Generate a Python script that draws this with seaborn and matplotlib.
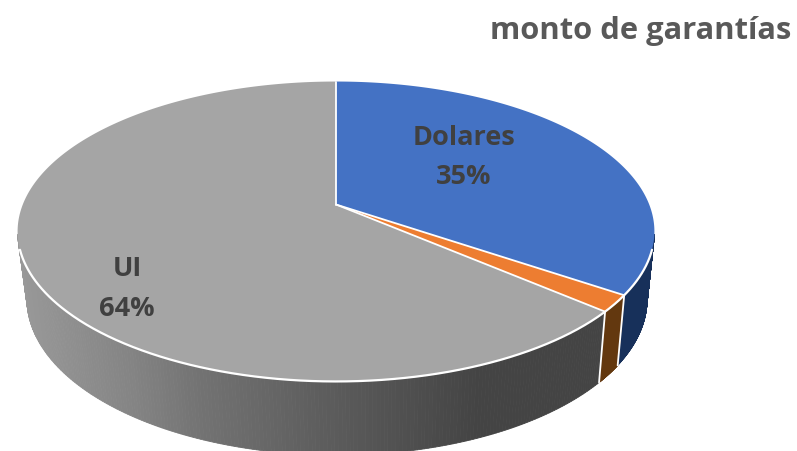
import numpy as np
import matplotlib
matplotlib.use("Agg")
import matplotlib.pyplot as plt
import seaborn as sns

labels = ["Dolares", "", "UI"]
values = [34.5, 1.8, 63.7]
shown_pct = ["35%", "", "64%"]
top_colors = ["#4472C4", "#ED7D31", "#A5A5A5"]
side_colors = ["#17305A", "#63380F", None]
title = "monto de garantías"

sns.set_theme(style="white")
plt.rcParams["font.family"] = ["Open Sans", "DejaVu Sans"]

fig = plt.figure(figsize=(7.97, 4.52), dpi=100)
ax = fig.add_axes([0, 0, 1, 1])
ax.set_xlim(0, 797)
ax.set_ylim(452, 0)
ax.axis("off")

K = 0.18
def top(t):
    d = 1 + K * np.sin(t)
    return 336 + 313.2 * np.cos(t) / d, 205.5 - 145.1 * np.sin(t) / d

def bottom(t):
    d = 1 + K * np.sin(t)
    return 337 + 305 * np.cos(t) / d, 272 - 151 * np.sin(t) / d

fracs = np.array(values) / sum(values)
ends = np.pi / 2 - 2 * np.pi * np.cumsum(fracs)
starts = np.r_[np.pi / 2, ends[:-1]]

def grey_at(x):
    return np.interp(x, [20, 130, 200, 300, 480, 620], [0.60, 0.52, 0.45, 0.38, 0.265, 0.265])

# Side walls, clockwise from the right of the pie, only the part facing the viewer
FRONT = (-np.pi + 0.2, -0.2)
for s, e, c in zip(starts, ends, side_colors):
    lo, hi = max(e, FRONT[0]), min(s, FRONT[1])
    if lo >= hi:
        continue
    ts = np.linspace(hi, lo, 220)
    for a, b in zip(ts[:-1], ts[1:]):
        xa, ya = top(np.array([a, b]))
        xb, yb = bottom(np.array([b, a]))
        if c is None:
            g = float(grey_at((xa.mean() + xb.mean()) / 2))
            col = (g, g, g)
        else:
            col = c
        ax.fill(np.r_[xa, xb], np.r_[ya, yb], color=col, lw=0.6, zorder=1)

# White vertical edges between the walls
for t in [ends[0], ends[1]]:
    x1, y1 = top(np.array([t]))
    x2, y2 = bottom(np.array([t]))
    ax.plot([x1[0], x2[0]], [y1[0], y2[0]], color="white", lw=1.3, zorder=2)

# Top faces
for s, e, c in zip(starts, ends, top_colors):
    ts = np.linspace(s, e, 300)
    x, y = top(ts)
    ax.fill(np.r_[336, x], np.r_[205.5, y], color=c, lw=0, zorder=3)

# White edges: radii and rim
for t in starts:
    x, y = top(np.array([t]))
    ax.plot([336, x[0]], [205.5, y[0]], color="white", lw=1.3, zorder=4)
ts = np.linspace(-np.pi + 0.30, -0.30, 500)
x, y = top(ts)
ax.plot(x, y, color="white", lw=1.6, zorder=4)

# Data labels
FS = 19.5
ax.text(464, 138, labels[0], ha="center", va="center", fontsize=FS, fontweight="bold", color="#404040", zorder=5)
ax.text(464, 177, shown_pct[0], ha="center", va="center", fontsize=FS, fontweight="bold", color="#404040", zorder=5)
ax.text(127, 269, labels[2], ha="center", va="center", fontsize=FS, fontweight="bold", color="#404040", zorder=5)
ax.text(127, 309, shown_pct[2], ha="center", va="center", fontsize=FS, fontweight="bold", color="#404040", zorder=5)
ax.text(640.5, 31, title, ha="center", va="center", fontsize=22.2, fontweight="bold", color="#595959", zorder=5)

fig.savefig("out.png", dpi=100)
